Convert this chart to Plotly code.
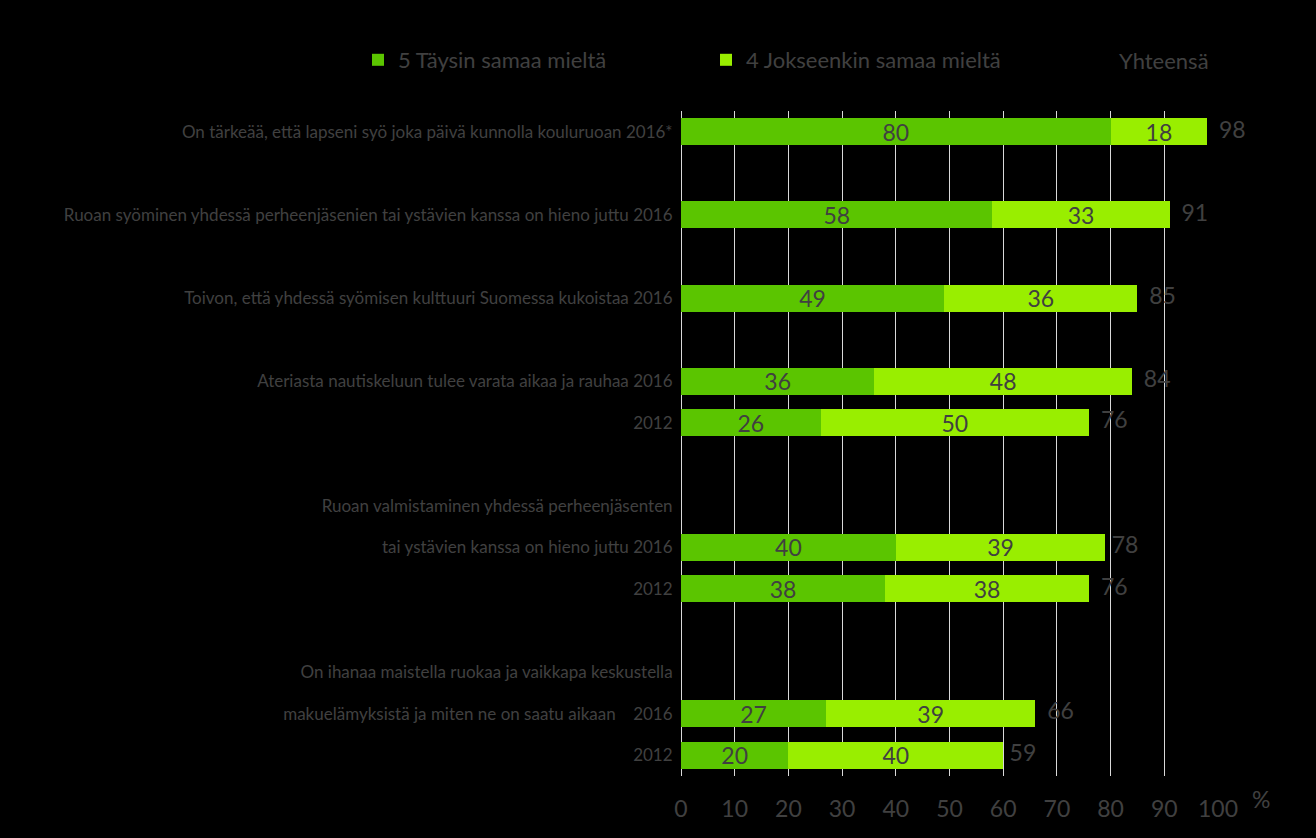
import plotly.graph_objects as go

# ---- data ----
row_ids = [f"r{i}" for i in range(16)]
row_labels = [
    "On tärkeää, että lapseni syö joka päivä kunnolla kouluruoan 2016*",
    "",
    "Ruoan syöminen yhdessä perheenjäsenien tai ystävien kanssa on hieno juttu 2016",
    "",
    "Toivon, että yhdessä syömisen kulttuuri Suomessa kukoistaa 2016",
    "",
    "Ateriasta nautiskeluun tulee varata aikaa ja rauhaa 2016",
    "2012",
    "",
    "Ruoan valmistaminen yhdessä perheenjäsenten",
    "tai ystävien kanssa on hieno juttu 2016",
    "2012",
    "",
    "On ihanaa maistella ruokaa ja vaikkapa keskustella",
    "makuelämyksistä ja miten ne on saatu aikaan\u00a0\u00a0\u00a0\u00a02016",
    "2012",
]
full_agree = [80, None, 58, None, 49, None, 36, 26, None, None, 40, 38, None, None, 27, 20]
partly_agree = [18, None, 33, None, 36, None, 48, 50, None, None, 39, 38, None, None, 39, 40]
totals = [98, None, 91, None, 85, None, 84, 76, None, None, 78, 76, None, None, 66, 59]
x_ticks = [0, 10, 20, 30, 40, 50, 60, 70, 80, 90, 100]

series_names = ["5 Täysin samaa mieltä", "4 Jokseenkin samaa mieltä", "Yhteensä"]
dark_green = "#5BC500"
light_green = "#99EE00"
text_gray = "#404040"
FONT = "Lato"

fig = go.Figure()
fig.add_trace(go.Bar(
    y=row_ids, x=full_agree, orientation="h", name=series_names[0],
    marker=dict(color=dark_green, line=dict(width=0)),
    text=[("" if v is None else str(v)) for v in full_agree],
    textposition="inside", insidetextanchor="middle", constraintext="none",
    textangle=0,
    textfont=dict(color=text_gray, size=23, family=FONT),
    hoverinfo="x",
))
fig.add_trace(go.Bar(
    y=row_ids, x=partly_agree, orientation="h", name=series_names[1],
    marker=dict(color=light_green, line=dict(width=0)),
    text=[("" if v is None else str(v)) for v in partly_agree],
    textposition="inside", insidetextanchor="middle", constraintext="none",
    textangle=0,
    textfont=dict(color=text_gray, size=23, family=FONT),
    hoverinfo="x",
))
# totals ("Yhteensä") as text labels at the end of each stacked bar
fig.add_trace(go.Scatter(
    y=row_ids, x=totals, mode="text", name=series_names[2],
    text=[("" if v is None else "\u00a0\u00a0" + str(v)) for v in totals],
    textposition="middle right", cliponaxis=False,
    textfont=dict(color=text_gray, size=23, family=FONT),
    showlegend=False, hoverinfo="skip",
))

fig.update_layout(
    width=1316, height=838,
    paper_bgcolor="#000000", plot_bgcolor="#000000",
    barmode="stack", bargap=0.35,
    margin=dict(l=681, r=98, t=111, b=62, autoexpand=False),
    font=dict(family=FONT, color=text_gray),
    showlegend=True,
    legend=dict(
        orientation="h", x=(358 - 681) / 537, xanchor="left",
        y=(776 - 60) / 665, yanchor="middle",
        font=dict(size=22, color=text_gray, family=FONT),
        entrywidth=303, entrywidthmode="pixels",
        bgcolor="rgba(0,0,0,0)", traceorder="normal",
    ),
    xaxis=dict(
        range=[0, 100], tickvals=x_ticks, ticktext=[str(t) for t in x_ticks],
        showgrid=True, gridcolor="#d9d9d9", gridwidth=1,
        zeroline=True, zerolinecolor="#d9d9d9", zerolinewidth=1,
        showline=False, ticks="outside", ticklen=12, tickcolor="rgba(0,0,0,0)",
        tickfont=dict(size=23, color=text_gray, family=FONT),
        fixedrange=True,
    ),
    yaxis=dict(
        type="category", categoryorder="array", categoryarray=row_ids,
        range=[15.5, -0.5], autorange=False,
        tickmode="array", tickvals=row_ids, ticktext=row_labels,
        showgrid=False, zeroline=False, showline=False,
        ticks="outside", ticklen=4, tickcolor="rgba(0,0,0,0)",
        tickfont=dict(size=17, color=text_gray, family=FONT),
        fixedrange=True,
    ),
    annotations=[
        dict(
            text="%", xref="paper", yref="paper", x=(1250 - 681) / 537, y=-0.035,
            xanchor="left", yanchor="middle", showarrow=False,
            font=dict(size=23, color=text_gray, family=FONT),
        ),
        dict(
            text=series_names[2], xref="paper", yref="paper",
            x=(1117 - 681) / 537, y=(776 - 60) / 665,
            xanchor="left", yanchor="middle", showarrow=False,
            font=dict(size=22, color=text_gray, family=FONT),
        ),
    ],
)

fig.write_html(
    "out.html",
    config={"displayModeBar": False},
    post_script="document.body.style.margin='0';",
)
